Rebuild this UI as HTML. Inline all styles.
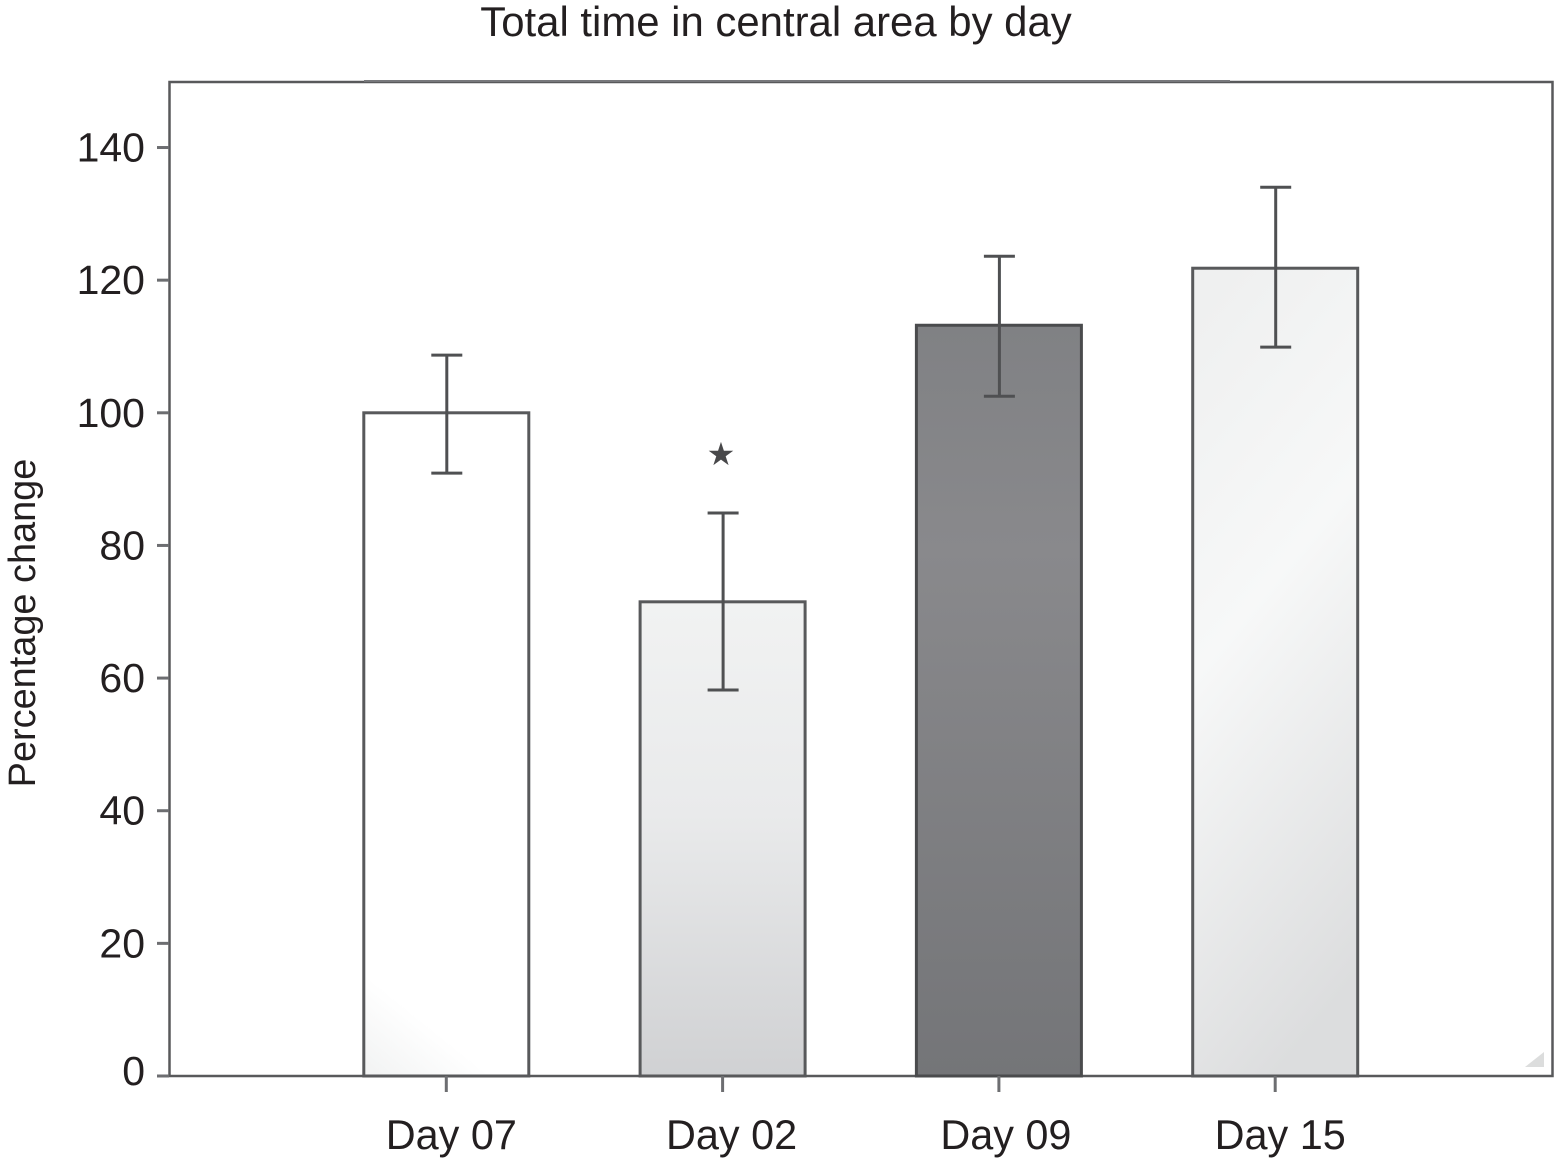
<!DOCTYPE html>
<html>
<head>
<meta charset="utf-8">
<title>Total time in central area by day</title>
<style>
html,body{margin:0;padding:0;background:#fff;width:1557px;height:1169px;overflow:hidden}
svg{display:block;font-family:"Liberation Sans",sans-serif;fill:#231f20}
</style>
</head>
<body>
<svg id="chart" width="1557" height="1169" viewBox="0 0 1557 1169" xmlns="http://www.w3.org/2000/svg">
<defs>
<linearGradient id="g0" x1="0.3" y1="0" x2="0.1" y2="1"><stop offset="0" stop-color="#fff"/><stop offset="0.87" stop-color="#fff"/><stop offset="1" stop-color="#f3f4f4"/></linearGradient>
<linearGradient id="g1" x1="0" y1="0" x2="0" y2="1"><stop offset="0" stop-color="#f1f2f2"/><stop offset="0.45" stop-color="#e9eaeb"/><stop offset="1" stop-color="#d0d1d3"/></linearGradient>
<linearGradient id="g2" x1="0" y1="0" x2="0" y2="1"><stop offset="0" stop-color="#808184"/><stop offset="0.3" stop-color="#89898c"/><stop offset="1" stop-color="#747578"/></linearGradient>
<linearGradient id="g3" x1="0.25" y1="0" x2="0.5" y2="1"><stop offset="0" stop-color="#eff0f0"/><stop offset="0.42" stop-color="#f7f8f8"/><stop offset="1" stop-color="#dcddde"/></linearGradient>
</defs>
<text x="776" y="36" font-size="41.9" text-anchor="middle">Total time in central area by day</text>
<text transform="translate(35,623) rotate(-90)" font-size="37.9" text-anchor="middle">Percentage change</text>
<rect x="169.5" y="82" width="1383" height="994" fill="#fff" stroke="#58595b" stroke-width="2.5"/>
<line x1="364" x2="1230" y1="81" y2="81" stroke="#77787b" stroke-width="2"/>
<g id="bars"></g>
<g id="axes"></g>
<text x="721" y="465" font-size="32" text-anchor="middle" style="font-family:'DejaVu Sans',sans-serif;fill:#48484a">★</text>
<path d="M1544 1067 L1544 1052 L1525 1067 Z" fill="#dcdddd" stroke="none"/>
</svg>
<script>
const categories = ['Day 07', 'Day 02', 'Day 09', 'Day 15'];
const barValues = [100, 71.5, 113.2, 121.8];
const errorUpper = [108.7, 84.9, 123.6, 134];
const errorLower = [90.9, 58.2, 102.5, 109.9];
const yTicks = [0, 20, 40, 60, 80, 100, 120, 140];
const barFills = ['url(#g0)', 'url(#g1)', 'url(#g2)', 'url(#g3)'];

const NS = 'http://www.w3.org/2000/svg';
function yScale(v) { return 1076 - v * 6.632; }
function xScale(i) { return 446.3 + i * 276.3; }
function labelShift(i) { return i === 1 ? 9 : i === 2 ? 7 : 5; }
function make(tag, attrs, parent) {
  const el = document.createElementNS(NS, tag);
  for (const k in attrs) el.setAttribute(k, attrs[k]);
  parent.appendChild(el);
  return el;
}
const barsG = document.getElementById('bars');
const axesG = document.getElementById('axes');
const barW = 165;
const capW = 31;

categories.forEach(function (cat, i) {
  const cx = xScale(i);
  const top = yScale(barValues[i]);
  const bar = make('rect', {x: cx - barW / 2, y: top, width: barW, height: yScale(0) - top, fill: barFills[i], stroke: i === 2 ? '#4a4b4d' : '#58595b', 'stroke-width': 3}, barsG);
  
  

  const up = yScale(errorUpper[i]);
  const lo = yScale(errorLower[i]);
  const stem = make('line', {x1: cx + 0.5, x2: cx + 0.5, y1: up, y2: lo, stroke: '#4f5052', 'stroke-width': 3}, barsG);
  
  
  const capTop = make('line', {x1: cx - capW / 2 + 0.5, x2: cx + capW / 2 + 0.5, y1: up, y2: up, stroke: '#4f5052', 'stroke-width': 3}, barsG);
  
  
  const capLow = make('line', {x1: cx - capW / 2 + 0.5, x2: cx + capW / 2 + 0.5, y1: lo, y2: lo, stroke: '#4f5052', 'stroke-width': 3}, barsG);
  
  

  const tick = make('line', {x1: cx, x2: cx, y1: 1076, y2: 1092, stroke: '#6d6e71', 'stroke-width': 3}, axesG);
  
  
  const label = make('text', {x: cx + labelShift(i), y: 1149, 'font-size': 41.4, 'text-anchor': 'middle'}, axesG);
  label.textContent = cat;
  
  
});

yTicks.forEach(function (v) {
  const y = yScale(v);
  const tick = make('line', {x1: 157, x2: 169, y1: y, y2: y, stroke: '#6d6e71', 'stroke-width': 3}, axesG);
  
  
  const label = make('text', {x: 145, y: v === 0 ? y + 9 : y + 14, 'font-size': 41, 'text-anchor': 'end'}, axesG);
  label.textContent = v;
  
  
});
</script>
</body>
</html>
